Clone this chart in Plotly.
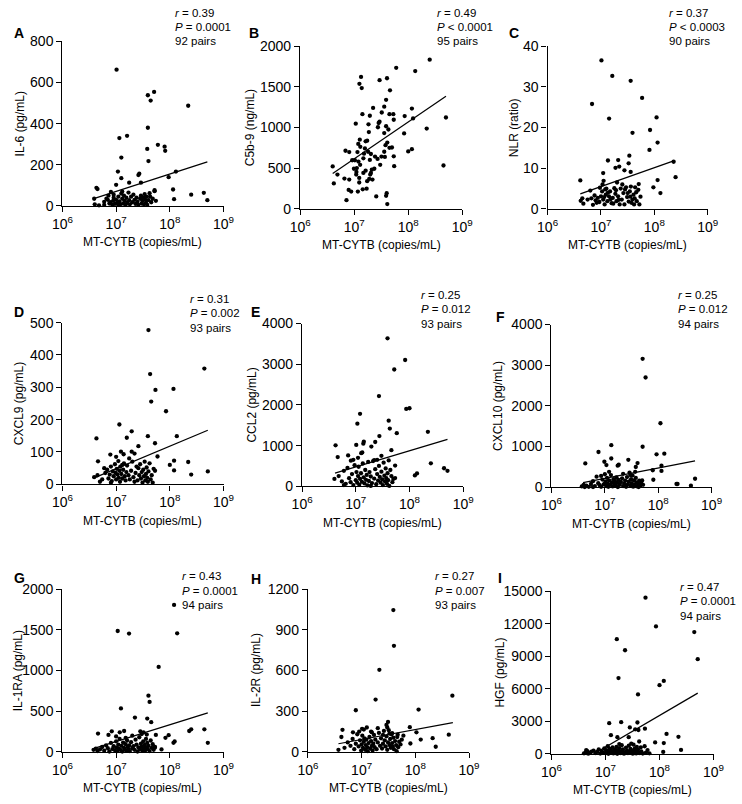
import plotly.graph_objects as go

W, H = 742, 804

# ---------------- data ----------------
X_TICK_VALS = [1e6, 1e7, 1e8, 1e9]
X_TICK_TEXT = ["10<sup>6</sup>", "10<sup>7</sup>", "10<sup>8</sup>", "10<sup>9</sup>"]
X_TITLE = "MT-CYTB (copies/mL)"

# A: IL-6
A_x = [1.02e7, 3.9e7, 5.1e7, 4.4e7, 2.2e8, 1.15e7, 1.6e7, 3.9e7, 6.0e7, 8.0e7, 8.2e7, 3.8e7, 4.0e7,
       1.25e7, 1.08e7, 2.6e7, 2.7e7, 1.3e8, 9.5e7, 1.25e7, 2.9e7, 1.75e7, 1.0e7, 4.3e6, 4.5e6, 1.15e8,
       5.2e7, 4.3e8, 2.5e8, 5.0e8, 1.2e8, 3.9e6,
       4.0e6, 4.8e6, 6.0e6, 6.6e6, 7.2e6, 7.5e6, 8.0e6, 8.5e6, 8.8e6, 9.0e6, 9.5e6, 1.0e7, 1.05e7,
       1.1e7, 1.1e7, 1.15e7, 1.2e7, 1.25e7, 1.3e7, 1.35e7, 1.4e7, 1.45e7, 1.5e7, 1.55e7, 1.6e7, 1.7e7,
       1.75e7, 1.8e7, 1.9e7, 2.0e7, 2.1e7, 2.2e7, 2.3e7, 2.4e7, 2.5e7, 2.6e7, 2.8e7, 2.9e7, 3.0e7,
       3.1e7, 3.2e7, 3.3e7, 3.4e7, 3.5e7, 3.6e7, 3.7e7, 3.8e7, 4.0e7, 4.2e7, 4.5e7, 4.8e7, 5.2e7,
       5.5e7, 6.0e6, 7.0e6, 9.0e6, 7.8e6, 1.3e7, 4.3e7]
A_y = [662, 538, 554, 512, 487, 330, 341, 380, 297, 288, 268, 277, 218,
       235, 167, 150, 157, 167, 140, 135, 113, 113, 103, 88, 82, 80,
       77, 64, 55, 28, 33, 35,
       8, 3, 20, 35, 50, 12, 68, 5, 25, 40, 10, 30, 15,
       5, 45, 22, 8, 60, 35, 12, 50, 25, 5, 40, 15, 65,
       28, 8, 45, 18, 55, 30, 10, 40, 20, 5, 35, 50, 12,
       25, 42, 8, 58, 30, 15, 45, 5, 28, 62, 18, 35, 72,
       25, 5, 30, 55, 18, 70, 45]
A_fit_x = [4.1e6, 5.0e8]
A_fit_y = [38, 214]

# B: C5b-9
B_x = [1.34e7, 1.25e7, 1.38e7, 6.0e7, 1.35e8, 2.5e8, 2.95e7, 4.05e7, 4.6e7, 2.24e7, 3.9e7, 3.6e7,
       1.17e8, 1.42e7, 1.95e7, 4.5e7, 5.3e7, 3.24e7, 1.07e7, 2.84e7, 2.75e7, 5.4e7, 1.23e8, 8.6e7,
       5.0e8, 3.9e7, 3.6e7, 4.3e7, 2.95e7, 8.4e7, 2.2e8, 3.8e7, 4.5e7, 4.1e7, 5.0e7, 1.0e8, 1.17e8,
       1.84e7, 1.87e7, 1.74e7, 1.63e7, 1.27e7, 1.19e7, 1.30e7, 1.15e7, 6.9e6, 8.1e6, 1.52e7, 1.81e7,
       2.04e7, 1.95e7, 1.48e7, 1.03e7, 9.2e6, 1.20e7, 1.12e7, 1.10e7, 1.24e7, 1.24e7, 1.17e7, 7.9e6,
       8.8e6, 1.44e7, 1.70e7, 1.74e7, 1.90e7, 1.98e7, 2.12e7, 2.36e7, 3.03e7, 2.71e7, 2.43e7, 3.20e7,
       3.7e7, 5.4e7, 5.5e7, 2.56e7, 4.0e7, 3.9e7, 4.1e7, 4.5e8, 8.1e6, 4.2e6, 4.9e6, 4.0e6, 6.6e6,
       7.2e6, 1.63e7, 2.04e7, 2.18e7, 1.48e7, 1.29e7, 9.9e6, 1.09e7, 3.6e7, 1.58e7]
B_y = [1622, 1538, 1486, 1735, 1695, 1835, 1582, 1606, 1458, 1241, 1341, 1257,
       1233, 1165, 1145, 1165, 1165, 1185, 1048, 1056, 1004, 1096, 1112, 1141,
       1124, 1016, 932, 976, 1072, 928, 988, 783, 751, 815, 755, 707, 735,
       1040, 944, 839, 831, 851, 799, 763, 699, 715, 699, 679, 703,
       675, 602, 622, 598, 598, 582, 502, 454, 381, 325, 213, 233,
       213, 241, 249, 341, 369, 422, 482, 494, 542, 614, 643, 643,
       639, 647, 526, 153, 193, 161, 60, 534, 361, 313, 422, 522, 373,
       108, 470, 442, 361, 442, 542, 494, 422, 703, 743]
B_fit_x = [4.0e6, 5.0e8]
B_fit_y = [434, 1386]

# C: NLR
C_x = [1.02e7, 1.63e7, 3.6e7, 5.9e7, 6.8e6, 1.42e7, 1.1e8, 3.9e7, 8.3e7, 1.15e8, 8.1e7, 3.4e7,
       1.35e7, 2.1e7, 3.3e7, 1.87e7, 2.2e7, 2.75e7, 3.6e7, 4.1e6, 1.1e7, 1.12e7, 1.15e8, 2.5e8,
       2.3e8, 9.6e7, 1.3e8, 5.1e7,
       4.47e6, 4.68e6, 6.61e6, 7.08e6, 7.94e6, 8.71e6, 9.33e6, 1.0e7, 1.05e7, 1.10e7, 1.17e7,
       1.23e7, 1.26e7, 1.32e7, 1.41e7, 1.48e7, 1.58e7, 1.66e7, 1.78e7, 1.86e7, 1.95e7, 2.09e7,
       2.24e7, 2.34e7, 2.45e7, 2.63e7, 2.75e7, 2.95e7, 3.09e7, 3.31e7, 3.47e7, 3.63e7, 3.89e7,
       4.07e7, 4.37e7, 4.68e7, 5.01e7, 5.25e7, 4.17e7, 3.55e7,
       4.17e6, 5.62e6, 6.31e6, 7.59e6, 8.32e6, 9.55e6, 1.07e7, 1.15e7, 1.35e7, 1.51e7, 1.70e7,
       1.91e7, 2.14e7, 2.51e7, 2.82e7, 3.16e7, 3.72e7, 4.27e7, 4.57e7, 5.50e7, 2.0e7, 1.20e7]
C_y = [36.5, 32.7, 31.5, 27.3, 25.8, 22.2, 22.5, 18.7, 19.4, 16.3, 14.5, 13.1,
       11.9, 12.0, 11.2, 10.1, 10.4, 9.5, 9.1, 7.0, 8.8, 6.9, 7.1, 7.8,
       11.6, 5.3, 3.9, 6.1,
       2.6, 1.3, 2.6, 1.0, 2.1, 2.7, 1.7, 3.1, 4.3, 2.3, 1.1,
       3.5, 5.0, 1.9, 3.1, 4.3, 1.4, 2.7, 5.1, 3.7, 1.9, 3.1,
       1.1, 5.0, 2.3, 3.9, 1.1, 5.3, 2.9, 1.8, 4.3, 5.5, 2.3,
       3.5, 5.3, 1.9, 4.7, 1.1, 1.1, 3.0,
       2.0, 2.3, 4.5, 3.3, 1.5, 5.2, 6.0, 2.9, 4.0, 2.4, 1.3,
       4.6, 2.2, 6.0, 4.8, 3.9, 1.5, 2.6, 4.1, 3.0, 6.5, 4.8]
C_fit_x = [4.1e6, 2.3e8]
C_fit_y = [3.7, 11.8]

# D: CXCL9
D_x = [4.0e7, 4.4e8, 4.3e7, 5.4e7, 1.17e8, 4.5e7, 8.5e7, 1.15e7, 1.95e7, 4.3e6, 1.58e7, 3.9e7,
       1.35e8, 5.3e7, 2.6e7, 1.23e7, 1.95e7, 1.38e7, 2.2e7, 7.8e6, 4.6e6, 5.9e7, 2.2e8, 1.2e8,
       1.0e8, 1.2e8, 2.5e8, 5.1e8, 5.3e7,
       3.9e6, 4.5e6, 5.0e6, 5.5e6, 6.3e6, 6.8e6, 7.2e6, 7.6e6, 8.0e6, 8.3e6, 8.7e6, 9.0e6, 9.5e6,
       9.8e6, 1.0e7, 1.03e7, 1.06e7, 1.1e7, 1.12e7, 1.15e7, 1.18e7, 1.2e7, 1.25e7, 1.3e7, 1.35e7,
       1.4e7, 1.45e7, 1.5e7, 1.55e7, 1.6e7, 1.7e7, 1.75e7, 1.8e7, 1.9e7, 2.0e7, 2.1e7, 2.2e7,
       2.3e7, 2.5e7, 2.6e7, 2.7e7, 2.8e7, 2.9e7, 3.0e7, 3.1e7, 3.2e7, 3.3e7, 3.4e7, 3.5e7, 3.6e7,
       3.7e7, 3.8e7, 3.9e7, 4.0e7, 4.2e7, 4.4e7, 4.6e7, 4.8e7, 5.0e7, 8.0e6, 6.0e6, 1.0e7, 1.3e7,
       2.4e7]
D_y = [477, 358, 341, 292, 295, 256, 226, 185, 164, 142, 144, 149,
       149, 127, 118, 101, 101, 93, 95, 92, 71, 86, 69, 73,
       60, 43, 30, 40, 42,
       22, 28, 8, 15, 35, 45, 18, 30, 55, 10, 40, 25, 62,
       35, 15, 48, 30, 72, 20, 42, 8, 55, 32, 18, 45,
       65, 25, 12, 38, 58, 28, 80, 15, 42, 70, 22, 8,
       35, 12, 50, 28, 62, 18, 38, 5, 45, 25, 70, 12, 32,
       52, 20, 8, 40, 65, 15, 28, 5, 48, 5, 50, 85, 60,
       55]
D_fit_x = [3.9e6, 5.1e8]
D_fit_y = [20, 167]

# E: CCL2
E_x = [3.9e7, 8.3e7, 5.2e7, 2.7e7, 8.7e7, 1.0e8, 1.2e7, 1.07e7, 4.1e7, 4.3e7, 5.8e7, 2.75e7,
       2.2e8, 1.41e7, 1.38e7, 1.02e7, 4.2e6, 1.95e7, 2.3e7, 1.32e7, 1.26e7, 4.6e7, 7.2e6, 3.0e7,
       4.6e6, 8.1e6, 2.2e7, 4.1e7, 5.4e7, 2.5e8, 4.4e8, 5.1e8, 1.26e8, 1.38e8, 5.4e7,
       4.0e6, 4.8e6, 5.5e6, 6.0e6, 6.5e6, 7.0e6, 7.5e6, 8.0e6, 8.5e6, 9.0e6, 9.5e6, 1.0e7, 1.03e7,
       1.06e7, 1.1e7, 1.13e7, 1.16e7, 1.2e7, 1.25e7, 1.3e7, 1.35e7, 1.4e7, 1.45e7, 1.5e7, 1.55e7,
       1.6e7, 1.65e7, 1.7e7, 1.75e7, 1.8e7, 1.9e7, 2.0e7, 2.1e7, 2.2e7, 2.3e7, 2.4e7, 2.5e7, 2.6e7,
       2.7e7, 2.8e7, 2.9e7, 3.0e7, 3.1e7, 3.2e7, 3.3e7, 3.4e7, 3.5e7, 3.6e7, 3.7e7, 3.8e7, 3.9e7,
       4.0e7, 4.2e7, 4.4e7, 4.6e7, 4.8e7, 5.0e7, 1.1e7, 2.5e7, 6.0e6, 9.0e6, 1.9e7]
E_y = [3637, 3105, 2871, 2218, 1903, 1919, 1782, 1540, 1613, 1419, 1306, 1234,
       1339, 1097, 1048, 1016, 1008, 976, 1089, 831, 815, 887, 758, 750,
       718, 629, 645, 637, 508, 564, 444, 379, 266, 315, 202,
       180, 250, 120, 380, 60, 450, 200, 100, 300, 30, 520, 150, 350,
       90, 250, 480, 40, 180, 320, 110, 560, 220, 70, 400, 160,
       280, 20, 600, 130, 350, 240, 80, 620, 190, 420, 50, 300, 140,
       500, 230, 90, 360, 170, 30, 580, 260, 120, 440, 200, 60, 320,
       150, 10, 400, 250, 100, 180, 700, 650, 30, 650, 10]
E_fit_x = [4.1e6, 5.1e8]
E_fit_y = [323, 1153]

# F: CXCL10
F_x = [5.1e7, 5.8e7, 1.1e8, 5.1e7, 9.3e7, 1.3e8, 1.32e7, 7.6e6, 1.32e7, 2.75e7, 4.1e7, 4.3e6,
       9.8e6, 1.07e7, 1.74e7, 1.82e7, 1.15e8, 7.9e7, 1.15e8, 3.8e7, 8.1e7, 4.9e8, 2.2e8, 2.3e8,
       4.1e8, 5.0e7,
       3.7e6, 4.0e6, 4.2e6, 4.5e6, 5.0e6, 5.5e6, 6.0e6, 6.5e6, 7.0e6, 7.5e6, 8.0e6, 8.5e6, 9.0e6,
       9.5e6, 1.0e7, 1.03e7, 1.06e7, 1.1e7, 1.13e7, 1.16e7, 1.2e7, 1.25e7, 1.3e7, 1.35e7, 1.4e7,
       1.45e7, 1.5e7, 1.55e7, 1.6e7, 1.65e7, 1.7e7, 1.75e7, 1.8e7, 1.9e7, 2.0e7, 2.1e7, 2.2e7,
       2.3e7, 2.4e7, 2.5e7, 2.6e7, 2.7e7, 2.8e7, 2.9e7, 3.0e7, 3.1e7, 3.2e7, 3.3e7, 3.4e7, 3.5e7,
       3.6e7, 3.7e7, 3.8e7, 3.9e7, 4.0e7, 4.2e7, 4.4e7, 4.6e7, 4.8e7, 5.2e7, 1.2e7, 2.2e7, 8.5e6,
       6.0e6, 1.0e7, 3.0e7, 4.3e7, 2.4e7]
F_y = [3157, 2699, 1574, 996, 811, 827, 1036, 867, 707, 675, 594, 586,
       627, 546, 530, 554, 402, 418, 530, 498, 185, 209, 80, 80,
       40, 169,
       20, 60, 5, 40, 10, 80, 150, 30, 260, 100, 50, 10, 190,
       70, 320, 140, 30, 230, 90, 10, 170, 60, 300, 120, 20,
       200, 80, 150, 40, 240, 110, 5, 180, 60, 130, 220, 30,
       90, 160, 10, 250, 70, 140, 360, 40, 200, 100, 290, 15, 170,
       60, 380, 230, 120, 20, 80, 160, 40, 110, 60, 380, 330, 280,
       5, 90, 300, 5, 50]
F_fit_x = [3.9e6, 4.9e8]
F_fit_y = [112, 650]

# G: IL-1RA
G_x = [1.2e8, 1.07e7, 1.74e7, 1.37e8, 6.2e7, 4.0e7, 4.2e7, 1.23e7, 2.24e7, 3.8e7, 4.5e7, 4.6e6,
       7.2e6, 8.3e6, 1.17e7, 1.41e7, 1.51e7, 2.82e7, 3.24e7, 3.72e7, 5.5e7, 8.3e7, 9.5e7, 1.23e8,
       1.17e8, 2.3e8, 2.5e8, 4.4e8, 5.1e8, 5.25e7,
       3.8e6, 4.2e6, 4.5e6, 5.0e6, 5.5e6, 6.0e6, 6.5e6, 7.0e6, 7.5e6, 8.0e6, 8.5e6, 9.0e6, 9.5e6,
       1.0e7, 1.03e7, 1.06e7, 1.1e7, 1.13e7, 1.16e7, 1.2e7, 1.25e7, 1.3e7, 1.35e7, 1.4e7, 1.45e7,
       1.5e7, 1.55e7, 1.6e7, 1.65e7, 1.7e7, 1.75e7, 1.8e7, 1.9e7, 2.0e7, 2.1e7, 2.2e7, 2.3e7,
       2.4e7, 2.5e7, 2.6e7, 2.7e7, 2.8e7, 2.9e7, 3.0e7, 3.1e7, 3.2e7, 3.3e7, 3.4e7, 3.5e7, 3.6e7,
       3.7e7, 3.8e7, 3.9e7, 4.0e7, 4.2e7, 4.4e7, 4.6e7, 4.8e7, 5.0e7, 5.3e7, 7.0e7, 1.0e7, 2.0e7,
       3.0e7]
G_y = [1807, 1486, 1454, 1458, 1044, 691, 614, 534, 422, 410, 365, 225,
       209, 253, 241, 257, 173, 253, 241, 213, 209, 173, 205, 129,
       112, 257, 277, 277, 112, 52,
       25, 40, 10, 30, 60, 15, 80, 45, 5, 110, 35, 70, 20,
       130, 55, 10, 90, 40, 160, 25, 75, 5, 115, 50, 30,
       95, 15, 140, 60, 35, 80, 10, 120, 45, 70, 25, 150,
       90, 5, 55, 180, 30, 100, 65, 15, 130, 45, 85, 20, 160,
       55, 110, 35, 75, 10, 140, 50, 95, 25, 60, 30, 190, 200,
       220]
G_fit_x = [3.9e6, 5.1e8]
G_fit_y = [44, 480]

# H: IL-2R
H_x = [3.9e7, 4.0e7, 2.14e7, 4.9e8, 1.82e7, 7.8e6, 1.15e8, 3.1e7, 2.9e7, 7.9e7, 4.4e6, 1.02e7,
       1.55e7, 6.9e6, 4.2e8, 2.1e8, 1.05e8, 1.26e8, 2.4e8, 3.7e7, 4.7e7, 8.1e7,
       3.7e6, 4.2e6, 4.8e6, 5.5e6, 6.2e6, 6.8e6, 7.3e6, 7.8e6, 8.3e6, 8.8e6, 9.3e6, 9.8e6, 1.0e7,
       1.03e7, 1.06e7, 1.1e7, 1.13e7, 1.16e7, 1.2e7, 1.23e7, 1.27e7, 1.3e7, 1.35e7, 1.4e7, 1.45e7,
       1.5e7, 1.55e7, 1.6e7, 1.65e7, 1.7e7, 1.75e7, 1.8e7, 1.9e7, 2.0e7, 2.1e7, 2.2e7, 2.3e7,
       2.4e7, 2.5e7, 2.6e7, 2.7e7, 2.8e7, 2.9e7, 3.0e7, 3.1e7, 3.2e7, 3.3e7, 3.4e7, 3.5e7, 3.6e7,
       3.7e7, 3.8e7, 3.9e7, 4.0e7, 4.2e7, 4.4e7, 4.6e7, 4.8e7, 5.0e7, 5.3e7, 5.6e7, 6.0e7, 1.1e7,
       1.25e7, 1.5e7, 2.0e7, 2.5e7, 3.0e7, 3.3e7, 9.0e6, 4.5e7]
H_y = [1046, 782, 605, 415, 386, 307, 312, 221, 199, 182, 163, 170,
       144, 144, 127, 101, 144, 91, 38, 139, 127, 62,
       15, 110, 30, 70, 45, 95, 20, 60, 130, 40, 85, 10, 55,
       120, 30, 75, 100, 15, 50, 90, 35, 5, 65, 110, 25,
       80, 45, 10, 60, 125, 35, 90, 20, 70, 140, 45, 100,
       25, 60, 155, 85, 40, 115, 15, 70, 160, 50, 95, 30, 130,
       65, 40, 105, 20, 80, 50, 110, 35, 75, 55, 90, 120, 165,
       180, 150, 175, 125, 180, 135, 150, 5]
H_fit_x = [3.7e6, 5.0e8]
H_fit_y = [60, 216]

# I: HGF
I_x = [5.5e7, 8.6e7, 4.4e8, 1.62e7, 2.3e7, 5.1e8, 1.74e7, 1.2e8, 1.0e8, 4.0e7, 1.17e7, 1.95e7,
       3.9e7, 2.82e7, 1.26e7, 1.66e7, 2.69e7, 3.55e7, 4.07e7, 5.37e7, 1.35e8, 2.24e8, 8.3e7, 1.2e8,
       4.2e7, 2.5e8, 1.17e8,
       4.0e6, 4.3e6, 4.6e6, 4.8e6, 5.2e6, 6.0e6, 6.5e6, 7.0e6, 7.5e6, 8.0e6, 8.5e6, 9.0e6, 9.5e6,
       1.0e7, 1.03e7, 1.06e7, 1.1e7, 1.13e7, 1.16e7, 1.2e7, 1.25e7, 1.3e7, 1.35e7, 1.4e7, 1.45e7,
       1.5e7, 1.55e7, 1.6e7, 1.65e7, 1.7e7, 1.75e7, 1.8e7, 1.9e7, 2.0e7, 2.1e7, 2.2e7, 2.3e7,
       2.4e7, 2.5e7, 2.6e7, 2.7e7, 2.8e7, 2.9e7, 3.0e7, 3.1e7, 3.2e7, 3.3e7, 3.4e7, 3.5e7, 3.6e7,
       3.7e7, 3.8e7, 3.9e7, 4.0e7, 4.3e7, 4.6e7, 4.9e7, 5.3e7, 5.6e7, 6.0e7, 4.4e6, 5.5e6, 2.0e7,
       3.0e7, 1.8e7, 4.5e7, 6.5e7]
I_y = [14400, 11750, 11230, 10570, 9550, 8730, 6990, 6720, 6330, 5480, 2830, 2920,
       2890, 2440, 1720, 1540, 1540, 2260, 2200, 2320, 1840, 1570, 1050, 990,
       1140, 360, 180,
       50, 150, 250, 20, 100, 300, 80, 180, 420, 30, 260, 120, 500,
       60, 340, 200, 700, 10, 150, 450, 90, 280, 600, 40, 220,
       380, 120, 650, 10, 300, 180, 520, 70, 250, 400, 20, 150,
       580, 300, 60, 750, 200, 450, 100, 330, 20, 850, 170, 500, 260,
       40, 650, 130, 380, 80, 230, 30, 700, 120, 350, 350, 200, 800,
       950, 900, 600, 50]
I_fit_x = [4.0e6, 5.1e8]
I_fit_y = [-535, 5600]

Y_TITLES = ["IL-6 (pg/mL)", "C5b-9 (ng/mL)", "NLR (ratio)", "CXCL9 (pg/mL)", "CCL2 (pg/mL)",
            "CXCL10 (pg/mL)", "IL-1RA (pg/mL)", "IL-2R (pg/mL)", "HGF (pg/mL)"]
Y_TICKS = [[0, 200, 400, 600, 800], [0, 500, 1000, 1500, 2000], [0, 10, 20, 30, 40],
           [0, 100, 200, 300, 400, 500], [0, 1000, 2000, 3000, 4000], [0, 1000, 2000, 3000, 4000],
           [0, 500, 1000, 1500, 2000], [0, 300, 600, 900, 1200],
           [0, 3000, 6000, 9000, 12000, 15000]]
LETTERS = ["A", "B", "C", "D", "E", "F", "G", "H", "I"]
STAT_R = ["0.39", "0.49", "0.37", "0.31", "0.25", "0.25", "0.43", "0.27", "0.47"]
STAT_P = ["= 0.0001", "< 0.0001", "< 0.0003", "= 0.002", "= 0.012", "= 0.012", "= 0.0001",
          "= 0.007", "= 0.0001"]
STAT_N = ["92 pairs", "95 pairs", "90 pairs", "93 pairs", "93 pairs", "94 pairs", "94 pairs",
          "93 pairs", "94 pairs"]

XS = [A_x, B_x, C_x, D_x, E_x, F_x, G_x, H_x, I_x]
YS = [A_y, B_y, C_y, D_y, E_y, F_y, G_y, H_y, I_y]
FXS = [A_fit_x, B_fit_x, C_fit_x, D_fit_x, E_fit_x, F_fit_x, G_fit_x, H_fit_x, I_fit_x]
FYS = [A_fit_y, B_fit_y, C_fit_y, D_fit_y, E_fit_y, F_fit_y, G_fit_y, H_fit_y, I_fit_y]

# ---------------- layout (pixel geometry) ----------------
BOXES = [(53, 219, 34, 202), (298, 465, 39, 205), (553, 718, 39, 205),
         (53, 219, 321, 486), (300, 466, 322, 488), (557, 722, 323, 489),
         (53, 219, 593, 759), (306, 472, 593, 759), (557, 724, 595, 761)]
YTITLE_X = [9, 246, 518, 9, 248, 502, 7, 252, 503]
STAT_POS = [(167, 5), (437, 5), (676, 5), (182, 297), (420, 293), (685, 293),
            (174, 580), (435, 580), (687, 591)]
STAT_DY = 14.5
LETTER_POS = [(1, 25), (243, 25), (511, 25), (1, 310), (245, 310), (498, 315),
              (1, 582), (245, 583), (500, 582)]

FONT = "Arial, 'Liberation Sans', sans-serif"


def px(x):
    return x / W


def py(y):
    return 1 - y / H


fig = go.Figure()
annotations = []
layout_axes = {}

for i in range(9):
    n = i + 1
    xa = "x" if n == 1 else f"x{n}"
    ya = "y" if n == 1 else f"y{n}"
    l, r, t, b = BOXES[i]
    fig.add_trace(go.Scatter(x=FXS[i], y=FYS[i], xaxis=xa, yaxis=ya, mode="lines",
                             line=dict(color="black", width=1.2), showlegend=False,
                             hoverinfo="skip"))
    fig.add_trace(go.Scatter(x=XS[i], y=YS[i], xaxis=xa, yaxis=ya, mode="markers",
                             marker=dict(color="black", size=4.3), cliponaxis=False,
                             showlegend=False))
    yt = Y_TICKS[i]
    layout_axes["xaxis" if n == 1 else f"xaxis{n}"] = dict(
        domain=[px(l), px(r)], anchor=ya, type="log", range=[6, 9],
        tickvals=X_TICK_VALS, ticktext=X_TICK_TEXT, showline=True, linecolor="black",
        linewidth=1.4, ticks="outside", ticklen=5, tickwidth=1.4, tickcolor="black",
        showgrid=False, zeroline=False, tickfont=dict(family=FONT, size=14, color="black"),
        fixedrange=True)
    layout_axes["yaxis" if n == 1 else f"yaxis{n}"] = dict(
        domain=[py(b), py(t)], anchor=xa, range=[yt[0], yt[-1]], tickvals=yt,
        ticktext=[str(v) for v in yt], showline=True, linecolor="black", linewidth=1.4,
        ticks="outside", ticklen=5, tickwidth=1.4, tickcolor="black", showgrid=False,
        zeroline=False, tickfont=dict(family=FONT, size=14, color="black"), fixedrange=True)
    annotations.append(dict(text=X_TITLE, x=px((l + r) / 2), y=py(b + 37), xref="paper",
                            yref="paper", xanchor="center", yanchor="middle", showarrow=False,
                            font=dict(family=FONT, size=12, color="black")))
    annotations.append(dict(text=Y_TITLES[i], x=px(YTITLE_X[i]), y=py((t + b) / 2),
                            xref="paper", yref="paper", xanchor="center", yanchor="middle",
                            textangle=-90, showarrow=False,
                            font=dict(family=FONT, size=12, color="black")))
    lx, ly = LETTER_POS[i]
    annotations.append(dict(text=f"<b>{LETTERS[i]}</b>", x=px(lx), y=py(ly), xref="paper",
                            yref="paper", xanchor="left", yanchor="middle", showarrow=False,
                            font=dict(family=FONT, size=14, color="black")))
    sx, sy = STAT_POS[i]
    lines = [f"<i>r</i> = {STAT_R[i]}", f"<i>P</i> {STAT_P[i]}", STAT_N[i]]
    for k, txt in enumerate(lines):
        annotations.append(dict(text=txt, x=px(sx), y=py(sy + k * STAT_DY), xref="paper",
                                yref="paper", xanchor="left", yanchor="middle",
                                showarrow=False,
                                font=dict(family=FONT, size=11.5, color="black")))

fig.update_layout(
    width=W, height=H, margin=dict(l=0, r=0, t=0, b=0), paper_bgcolor="white",
    plot_bgcolor="white", showlegend=False, annotations=annotations,
    font=dict(family=FONT, color="black"), **layout_axes)

fig.write_html("out.html", config={"displayModeBar": False},
               post_script="document.body.style.margin='0';document.body.style.padding='0';")
